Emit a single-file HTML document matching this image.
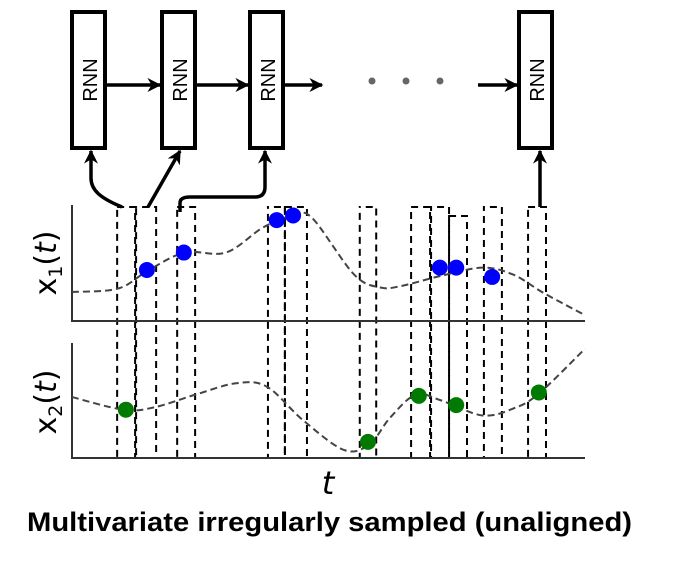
<!DOCTYPE html>
<html><head><meta charset="utf-8"><style>
body{margin:0;background:#fff;}
svg{display:block;font-family:"Liberation Sans",sans-serif;}
</style></head><body>
<svg id="fig" width="683" height="566" viewBox="0 0 683 566" xmlns="http://www.w3.org/2000/svg">
<defs>
<marker id="ah" viewBox="0 0 10 10" refX="9" refY="5" markerWidth="4" markerHeight="4" orient="auto"><path d="M0,0 L10,5 L0,10 L3,5 z" fill="#000"/></marker>
</defs>
<g id="rnns"></g>
<g id="boxes"></g>
<g id="p1"></g>
<g id="p2"></g>
<text x="0" y="0" transform="translate(56,263) rotate(-90)" text-anchor="middle" font-family="DejaVu Sans, sans-serif" font-size="30">x<tspan font-size="19" dy="6">1</tspan><tspan dy="-6">(</tspan><tspan font-style="italic">t</tspan>)</text>
<text x="0" y="0" transform="translate(56,402) rotate(-90)" text-anchor="middle" font-family="DejaVu Sans, sans-serif" font-size="30">x<tspan font-size="19" dy="6">2</tspan><tspan dy="-6">(</tspan><tspan font-style="italic">t</tspan>)</text>
<text x="328" y="494" text-anchor="middle" font-family="DejaVu Sans, sans-serif" font-style="italic" font-size="32">t</text>
<text x="27" y="531" font-weight="bold" font-size="27" textLength="605" lengthAdjust="spacingAndGlyphs">Multivariate irregularly sampled (unaligned)</text>
</svg>
<script>
// data (time in 0..100, values in 0..1)
const x1CurveT=[0,9,15,22,30,37,42,43.5,47,55,60,64,72,80,86,92,100];
const x1CurveV=[0.25,0.28,0.44,0.59,0.59,0.8,0.9,0.93,0.88,0.4,0.29,0.3,0.39,0.46,0.4,0.24,0.05];
const x2CurveT=[0,10,16,24,32,38,45,53,58,62,67,72,80,86,91,100];
const x2CurveV=[0.53,0.42,0.44,0.55,0.65,0.62,0.33,0.07,0.12,0.35,0.55,0.5,0.37,0.43,0.56,0.95];
const x1SampleT=[14.6,21.8,39.9,43.1,71.7,74.9,81.9];
const x1SampleV=[0.44,0.59,0.87,0.91,0.46,0.46,0.38];
const x2SampleT=[10.5,57.7,67.6,74.9,91.0];
const x2SampleV=[0.42,0.14,0.54,0.46,0.57];
const windowStart=[8.8,12.3,20.5,38.0,41.5,55.9,66.1,69.8,73.5,80.1,88.9];
const windowEnd=[12.3,16.4,24.0,41.5,45.8,59.3,69.8,73.5,77.0,83.8,92.4];
const windowTopOffset=[0,0,0,0,0,0,0,0,9,0,0];

const NS="http://www.w3.org/2000/svg";
const X0=72,X1=585;
const sx=t=>X0+(t/100)*(X1-X0);
const panels=[{g:'p1',top:205,bot:321},{g:'p2',top:343,bot:458}];
function mk(tag,attrs,parent){const e=document.createElementNS(NS,tag);for(const k in attrs)e.setAttribute(k,attrs[k]);parent.appendChild(e);return e;}
function smooth(pts){let d=`M${pts[0][0]},${pts[0][1]}`;for(let i=0;i<pts.length-1;i++){const p0=pts[i-1]||pts[i],p1=pts[i],p2=pts[i+1],p3=pts[i+2]||p2;d+=` C${p1[0]+(p2[0]-p0[0])/6},${p1[1]+(p2[1]-p0[1])/6} ${p2[0]-(p3[0]-p1[0])/6},${p2[1]-(p3[1]-p1[1])/6} ${p2[0]},${p2[1]}`;}return d;}
const curves=[[x1CurveT,x1CurveV,x1SampleT,x1SampleV,'#0000ff'],[x2CurveT,x2CurveV,x2SampleT,x2SampleV,'#007a00']];
panels.forEach((p,i)=>{
  const g=document.getElementById(p.g);
  const sy=v=>p.bot-v*(p.bot-p.top);
  const ya=mk('line',{x1:X0,y1:p.top,x2:X0,y2:p.bot,stroke:'#333','stroke-width':2},g);
  
  
  const xa=mk('line',{x1:X0-1,y1:p.bot,x2:X1,y2:p.bot,stroke:'#333','stroke-width':2},g);
  
  
  const [ct,cv,st,sv,col]=curves[i];
  const path=mk('path',{d:smooth(ct.map((t,k)=>[sx(t),sy(cv[k])])),fill:'none',stroke:'#444','stroke-width':2,'stroke-dasharray':'7,4'},g);
  
  
  st.forEach((t,k)=>{
    const c=mk('circle',{cx:sx(t),cy:sy(sv[k]),r:8,fill:col},g);
    
    
  });
});
const bg=document.getElementById('boxes');
windowStart.forEach((s,k)=>{
  const r=mk('rect',{x:sx(s)+(k%2),y:207+windowTopOffset[k],width:sx(windowEnd[k])-sx(s)-(k%2),height:458-207-windowTopOffset[k],fill:'none',stroke:'#000','stroke-width':2,'stroke-dasharray':'7,5','stroke-dashoffset':(k%2)*6},bg);
  
  
});
const rg=document.getElementById('rnns');
const rnnX=[72,162,250,519];
rnnX.forEach((x,k)=>{
  const b=mk('rect',{x:x,y:12,width:33,height:136,fill:'#fff',stroke:'#000','stroke-width':4},rg);
  
  
  const t=mk('text',{x:0,y:0,transform:`translate(${x+25},80) rotate(-90)`,'text-anchor':'middle','font-size':20},rg);
  t.textContent='RNN';
  
  
});
const arrows=['M105,85 L160,85','M195,85 L248,85','M283,85 L322,85','M478,85 L517,85',
 'M122,207 C100,198 91,190 91,178 L91,151','M148,207 L180,151','M180,212 L180,203 Q180,197 190,197 L255,197 Q265,197 265,187 L265,151','M540,207 L540,151'];
arrows.forEach(d=>{
  const a=mk('path',{d:d,fill:'none',stroke:'#000','stroke-width':3.5,'marker-end':'url(#ah)'},rg);
  
  
});
[372,406,440].forEach(x=>{
  const c=mk('circle',{cx:x,cy:81,r:3.5,fill:'#666'},rg);
  
  
});
</script>
</body></html>
